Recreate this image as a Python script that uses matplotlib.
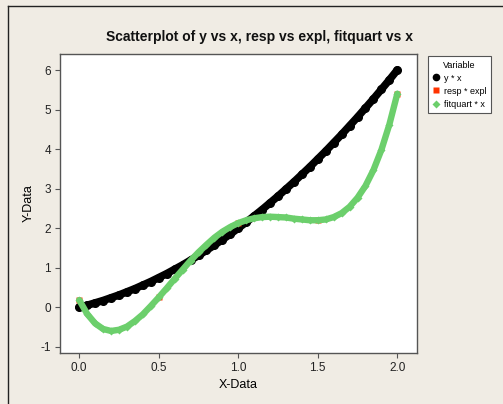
import matplotlib
matplotlib.use("Agg")
import matplotlib.pyplot as plt
from matplotlib.lines import Line2D

# ---- data ----
x = [0.00, 0.05, 0.10, 0.15, 0.20, 0.25, 0.30, 0.35, 0.40, 0.45,
     0.50, 0.55, 0.60, 0.65, 0.70, 0.75, 0.80, 0.85, 0.90, 0.95,
     1.00, 1.05, 1.10, 1.15, 1.20, 1.25, 1.30, 1.35, 1.40, 1.45,
     1.50, 1.55, 1.60, 1.65, 1.70, 1.75, 1.80, 1.85, 1.90, 1.95, 2.00]
y = [0.00, 0.05, 0.11, 0.17, 0.24, 0.31, 0.39, 0.47, 0.56, 0.65,
     0.75, 0.85, 0.96, 1.07, 1.19, 1.31, 1.44, 1.57, 1.71, 1.85,
     2.00, 2.15, 2.31, 2.47, 2.64, 2.81, 2.99, 3.17, 3.36, 3.55,
     3.75, 3.95, 4.16, 4.37, 4.59, 4.81, 5.04, 5.27, 5.51, 5.75, 6.00]
fitquart = [0.18, -0.17, -0.41, -0.55, -0.60, -0.57, -0.49, -0.35, -0.18, 0.03,
            0.25, 0.48, 0.72, 0.95, 1.18, 1.39, 1.58, 1.76, 1.91, 2.03,
            2.13, 2.20, 2.25, 2.28, 2.29, 2.28, 2.27, 2.24, 2.22, 2.20,
            2.20, 2.22, 2.28, 2.38, 2.54, 2.77, 3.07, 3.47, 3.98, 4.62, 5.40]
expl = [0.0, 0.5, 1.0, 1.5, 2.0]
resp = [0.18, 0.25, 2.13, 2.20, 5.40]

xticks = [0.0, 0.5, 1.0, 1.5, 2.0]
xticklabels = ["0.0", "0.5", "1.0", "1.5", "2.0"]
yticks = [-1, 0, 1, 2, 3, 4, 5, 6]

title = "Scatterplot of y vs x, resp vs expl, fitquart vs x"
legend_labels = ["y * x", "resp * expl", "fitquart * x"]

# ---- figure ----
W, H = 503, 404
bg = "#F0ECE4"
plt.rcParams["font.family"] = ["Liberation Sans", "DejaVu Sans"]
plt.rcParams["axes.unicode_minus"] = False
fig = plt.figure(figsize=(W / 100, H / 100), dpi=100, facecolor=bg)

ax = fig.add_axes([60 / W, 1 - 352.7 / H, (416.7 - 60) / W, (352.7 - 54) / H])
ax.set_facecolor("white")

black = "#000000"
red = "#FF3300"
green = "#6CCF6C"

ax.plot(x, y, color=black, lw=5.5, solid_capstyle="round", zorder=2)
ax.plot(x, y, "o", color=black, ms=5.5, zorder=2)
ax.plot(expl, resp, "s", color=red, ms=5, zorder=3, mec="none")
ax.plot(x, fitquart, color=green, lw=4.6, solid_capstyle="round", zorder=4)
ax.plot(x, fitquart, "D", color=green, ms=4.3, mec="none", zorder=4)

ax.set_xlim(-0.121, 2.122)
ax.set_ylim(-1.15, 6.405)
ax.set_xticks(xticks)
ax.set_xticklabels(xticklabels)
ax.set_yticks(yticks)

for s in ax.spines.values():
    s.set_color("#555555")
    s.set_linewidth(1.0)
ax.tick_params(direction="out", length=3.5, width=0.8, color="#555555",
               labelsize=8.5, labelcolor="#222222", pad=3)

ax.set_xlabel("X-Data", fontsize=9, labelpad=4)
ax.set_ylabel("Y-Data", fontsize=9, labelpad=4)

fig.text(260 / W, 1 - 37 / H, title, ha="center", va="center",
         fontsize=10, fontweight="bold", color="#111111")

handles = [
    Line2D([], [], marker="o", ls="none", color=black, ms=4.5),
    Line2D([], [], marker="s", ls="none", color=red, ms=4.5, mec="none"),
    Line2D([], [], marker="D", ls="none", color=green, ms=4, mec="none"),
]
leg = fig.legend(handles, legend_labels, title="Variable",
                 loc="upper left", bbox_to_anchor=(428 / W, 1 - 56 / H),
                 borderaxespad=0,
                 fontsize=6.5, title_fontsize=6.5, frameon=True, fancybox=False,
                 edgecolor="#555555", framealpha=1, handlelength=0.8,
                 handletextpad=0.5, borderpad=0.5, labelspacing=0.45,
                 alignment="center")
leg.get_frame().set_linewidth(0.8)
leg.get_frame().set_facecolor("white")

# outer border (left and top)
fig.add_artist(Line2D([8 / W, 8 / W], [0, 1 - 6 / H], color="#222222", lw=1.0))
fig.add_artist(Line2D([8 / W, 1], [1 - 6 / H, 1 - 6 / H], color="#222222", lw=1.0))

fig.savefig("out.png", dpi=100, facecolor=bg)
